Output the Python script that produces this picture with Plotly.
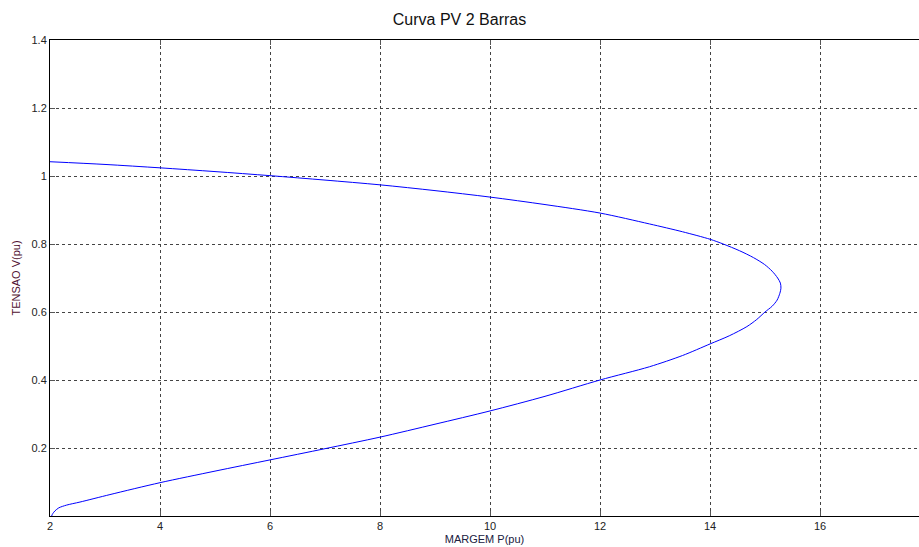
import plotly.graph_objects as go

# PV curve (P in pu, V in pu), traced from upper branch through the nose to lower branch
P = [2.0, 3.0, 4.0, 5.0, 6.0, 7.0, 8.0, 9.0, 10.0, 11.0, 12.0, 12.9, 13.5, 14.0,
     14.24, 14.54, 14.79, 14.99, 15.13, 15.23, 15.28, 15.29, 15.27, 15.22, 15.13, 15.0,
     14.85, 14.67, 14.35, 14.0, 13.5, 12.9,
     12.0, 11.0, 10.0, 9.0, 8.0, 7.0, 6.0, 5.0, 4.0, 3.09, 2.545, 2.3, 2.16, 2.09, 2.05, 2.03]
V = [1.042, 1.034, 1.024, 1.013, 1.001, 0.988, 0.974, 0.957, 0.938, 0.916, 0.891, 0.859, 0.836, 0.814,
     0.800, 0.780, 0.760, 0.740, 0.720, 0.700, 0.685, 0.670, 0.655, 0.635, 0.617, 0.600,
     0.578, 0.557, 0.530, 0.506, 0.472, 0.439,
     0.400, 0.352, 0.309, 0.270, 0.232, 0.198, 0.165, 0.132, 0.098, 0.063, 0.041, 0.032, 0.024, 0.015, 0.007, 0.0]

x_ticks = [2, 4, 6, 8, 10, 12, 14, 16]
y_ticks = [0.2, 0.4, 0.6, 0.8, 1.0, 1.2, 1.4]
y_tick_text = ["0.2", "0.4", "0.6", "0.8", "1", "1.2", "1.4"]

fig = go.Figure()
fig.add_trace(go.Scatter(x=P, y=V, mode="lines",
                         line=dict(color="#0000ff", width=1, shape="spline", smoothing=0.8),
                         hoverinfo="skip", showlegend=False))

font_family = "Liberation Sans, Arial, sans-serif"
fig.update_layout(
    width=919, height=547,
    margin=dict(l=50, r=0, t=40, b=31),
    paper_bgcolor="white", plot_bgcolor="white",
    font=dict(family=font_family, size=11, color="#222222"),
    title=dict(text="Curva PV 2 Barras", x=0.5, xanchor="center", y=0.965, yanchor="middle",
               font=dict(family=font_family, size=16, color="#111111")),
    xaxis=dict(range=[2, 17.8], tickvals=x_ticks, ticktext=[str(v) for v in x_ticks],
               showgrid=True, gridcolor="#444444", griddash="dot", gridwidth=1,
               showline=True, linecolor="black", linewidth=1, mirror="ticks",
               ticks="inside", ticklen=5, tickcolor="#555555",
               zeroline=False,
               title=dict(text="MARGEM P(pu)", standoff=4, font=dict(size=11, color="#202040"))),
    yaxis=dict(range=[0, 1.4], tickvals=y_ticks, ticktext=y_tick_text,
               showgrid=True, gridcolor="#444444", griddash="dot", gridwidth=1,
               showline=True, linecolor="black", linewidth=1,
               ticks="inside", ticklen=5, tickcolor="#555555",
               zeroline=False,
               title=dict(text="TENSAO V(pu)", standoff=8, font=dict(size=11, color="#501030"))),
)

fig.write_html("out.html")
